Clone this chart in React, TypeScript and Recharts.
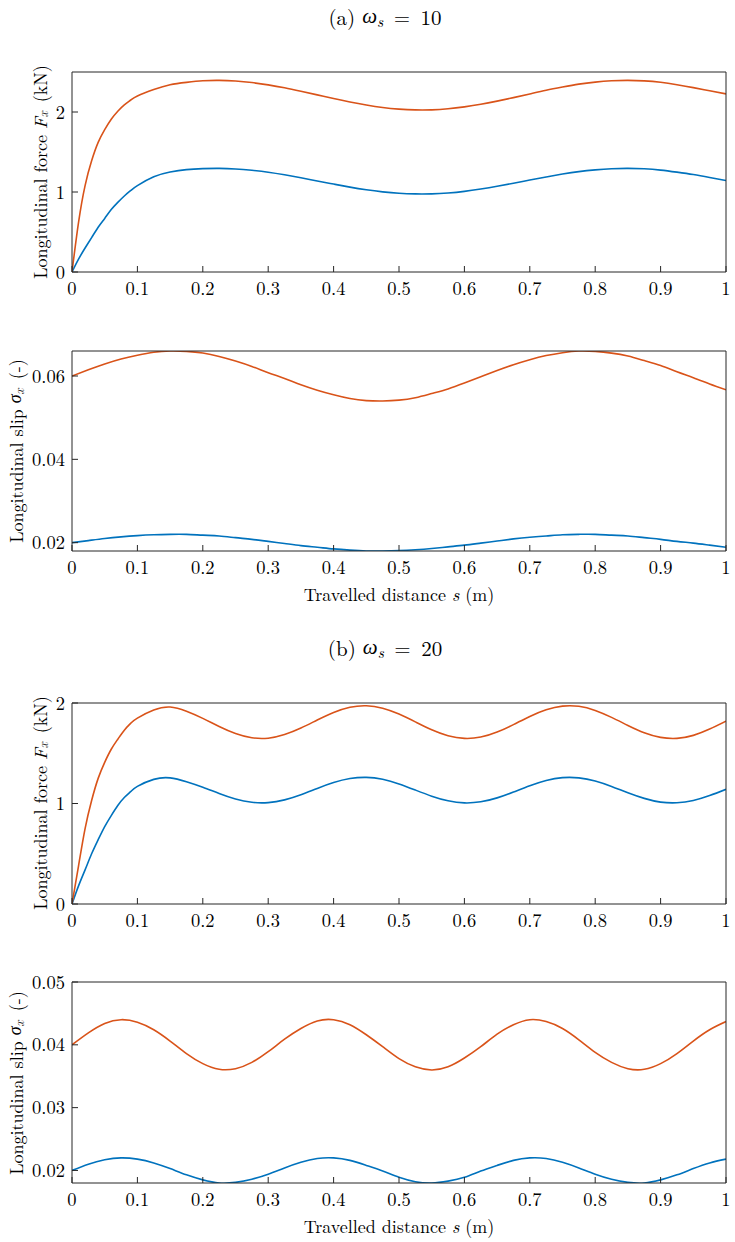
import React from "react";
import { LineChart, Line, XAxis, YAxis } from "recharts";

// travelled distance grids (m)
const sForce = [
  0, 0.01, 0.02, 0.03, 0.04, 0.05, 0.06, 0.07, 0.08, 0.09, 0.1,
  0.125, 0.15, 0.175, 0.2, 0.225, 0.25, 0.275, 0.3, 0.325, 0.35, 0.375, 0.4,
  0.425, 0.45, 0.475, 0.5, 0.525, 0.55, 0.575, 0.6, 0.625, 0.65, 0.675, 0.7,
  0.725, 0.75, 0.775, 0.8, 0.825, 0.85, 0.875, 0.9, 0.925, 0.95, 0.975, 1,
];
const sSlip = [
  0, 0.025, 0.05, 0.075, 0.1, 0.125, 0.15, 0.175, 0.2, 0.225, 0.25, 0.275,
  0.3, 0.325, 0.35, 0.375, 0.4, 0.425, 0.45, 0.475, 0.5, 0.525, 0.55, 0.575,
  0.6, 0.625, 0.65, 0.675, 0.7, 0.725, 0.75, 0.775, 0.8, 0.825, 0.85, 0.875,
  0.9, 0.925, 0.95, 0.975, 1,
];

// (a) omega_s = 10 : longitudinal force Fx (kN)
const forceBlueA = [
  0, 0.16, 0.3, 0.43, 0.56, 0.67, 0.78, 0.87, 0.95, 1.02, 1.08,
  1.19, 1.25, 1.28, 1.292, 1.295, 1.288, 1.271, 1.247, 1.215, 1.178, 1.138,
  1.099, 1.061, 1.028, 1.002, 0.984, 0.976, 0.977, 0.988, 1.008, 1.037, 1.071,
  1.109, 1.149, 1.188, 1.224, 1.255, 1.277, 1.291, 1.295, 1.29, 1.274, 1.248,
  1.218, 1.182, 1.144,
];
const forceOrangeA = [
  0, 0.62, 1.08, 1.39, 1.62, 1.78, 1.91, 2.01, 2.09, 2.15, 2.2,
  2.28, 2.34, 2.37, 2.39, 2.395, 2.387, 2.368, 2.339, 2.302, 2.259, 2.214,
  2.168, 2.125, 2.087, 2.056, 2.036, 2.026, 2.027, 2.04, 2.064, 2.096, 2.136,
  2.18, 2.226, 2.272, 2.312, 2.348, 2.374, 2.39, 2.395, 2.389, 2.371, 2.341,
  2.305, 2.265, 2.226,
];

// (a) omega_s = 10 : longitudinal slip sigma_x (-)
const slipBlueA = [
  0.02, 0.0205, 0.021, 0.0214, 0.0217, 0.0219, 0.022, 0.022, 0.0218, 0.0216,
  0.0212, 0.0208, 0.0203, 0.0198, 0.0193, 0.0189, 0.0185, 0.0182, 0.018,
  0.018, 0.0181, 0.0183, 0.0186, 0.019, 0.0194, 0.0199, 0.0204, 0.0209,
  0.0213, 0.0216, 0.0219, 0.022, 0.022, 0.0218, 0.0216, 0.0212, 0.0208,
  0.0203, 0.0199, 0.0194, 0.0189,
];
const slipOrangeA = [
  0.06, 0.0615, 0.0629, 0.0641, 0.065, 0.0657, 0.066, 0.0659, 0.0655, 0.0647,
  0.0636, 0.0623, 0.0608, 0.0594, 0.0579, 0.0566, 0.0555, 0.0546, 0.0541,
  0.054, 0.0542, 0.0548, 0.0558, 0.0569, 0.0583, 0.0598, 0.0613, 0.0627,
  0.0639, 0.0649, 0.0656, 0.066, 0.0659, 0.0655, 0.0648, 0.0637, 0.0625,
  0.061, 0.0596, 0.0581, 0.0567,
];

// (b) omega_s = 20 : longitudinal force Fx (kN)
const forceBlueB = [
  0, 0.18, 0.34, 0.5, 0.64, 0.77, 0.88, 0.98, 1.06, 1.12, 1.17,
  1.24, 1.255, 1.217, 1.162, 1.099, 1.044, 1.012, 1.009, 1.036, 1.087, 1.15,
  1.208, 1.248, 1.26, 1.241, 1.195, 1.134, 1.073, 1.027, 1.006, 1.017, 1.056,
  1.114, 1.176, 1.228, 1.257, 1.255, 1.224, 1.17, 1.107, 1.051, 1.014, 1.007,
  1.03, 1.079, 1.141,
];
const forceOrangeB = [
  0, 0.38, 0.75, 1.03, 1.25, 1.41, 1.54, 1.64, 1.73, 1.8, 1.85,
  1.93, 1.96, 1.918, 1.847, 1.766, 1.696, 1.654, 1.65, 1.686, 1.751, 1.831,
  1.906, 1.958, 1.973, 1.948, 1.89, 1.812, 1.733, 1.674, 1.648, 1.661, 1.711,
  1.785, 1.866, 1.932, 1.969, 1.967, 1.926, 1.857, 1.777, 1.704, 1.658, 1.648,
  1.678, 1.741, 1.82,
];

// (b) omega_s = 20 : longitudinal slip sigma_x (-)
const slipBlueB = [
  0.02, 0.021, 0.0217, 0.022, 0.0218, 0.0212, 0.0203, 0.0193, 0.0185, 0.018,
  0.0181, 0.0186, 0.0194, 0.0204, 0.0213, 0.0219, 0.022, 0.0216, 0.0208,
  0.0199, 0.0189, 0.0182, 0.018, 0.0183, 0.0189, 0.0199, 0.0208, 0.0216,
  0.022, 0.0219, 0.0213, 0.0204, 0.0194, 0.0186, 0.0181, 0.018, 0.0185,
  0.0193, 0.0203, 0.0212, 0.0218,
];
const slipOrangeB = [
  0.04, 0.0419, 0.0434, 0.044, 0.0436, 0.0424, 0.0406, 0.0386, 0.037, 0.0361,
  0.0362, 0.0372, 0.0389, 0.0409, 0.0426, 0.0438, 0.044, 0.0432, 0.0416,
  0.0397, 0.0378, 0.0365, 0.036, 0.0365, 0.0379, 0.0397, 0.0417, 0.0432,
  0.044, 0.0437, 0.0426, 0.0408, 0.0388, 0.0372, 0.0362, 0.0361, 0.037,
  0.0386, 0.0406, 0.0424, 0.0437,
];

const xTicks = [0, 0.1, 0.2, 0.3, 0.4, 0.5, 0.6, 0.7, 0.8, 0.9, 1];
const forceTicksA = [0, 1, 2];
const slipTicksA = [0.02, 0.04, 0.06];
const forceTicksB = [0, 1, 2];
const slipTicksB = [0.02, 0.03, 0.04, 0.05];

const toRows = (s: number[], blue: number[], orange: number[]) =>
  s.map((v, i) => ({ s: v, blue: blue[i], orange: orange[i] }));

const FONT = '"Latin Modern Roman", "Liberation Serif", serif';
const GREEK = '"Liberation Serif", serif';
const AXIS = "#262626";
const BLUE = "#0072BD";
const ORANGE = "#D95319";

const PLOT_LEFT = 72;
const PLOT_RIGHT = 726;
const W = 735;
const PAD_TOP = 20;

const txt = (size: number): React.CSSProperties => ({ fontFamily: FONT, fontSize: size, fill: "#000" });
const greek: React.CSSProperties = { fontFamily: GREEK, fontStyle: "italic" };

interface PanelProps {
  plotTop: number;
  plotBottom: number;
  data: any[];
  yDomain: [number, number];
  yTicks: number[];
}

const Panel: React.FC<PanelProps> = ({ plotTop, plotBottom, data, yDomain, yTicks }) => {
  const height = plotBottom - plotTop + PAD_TOP + 40;
  const tickStyle = { fill: "#000", fontSize: 18.5, fontFamily: FONT, style: txt(18.5) };
  return (
    <div style={{ position: "absolute", left: 0, top: plotTop - PAD_TOP, width: W, height }}>
      <LineChart
        width={W}
        height={height}
        data={data}
        margin={{ top: PAD_TOP - 1, right: W - PLOT_RIGHT - 1, bottom: 0, left: PLOT_LEFT - 1 }}
      >
        <XAxis
          dataKey="s"
          type="number"
          domain={[0, 1]}
          ticks={xTicks}
          allowDataOverflow
          height={40}
          tickSize={-6}
          tickMargin={16}
          tick={tickStyle}
          stroke={AXIS}
          interval={0}
        />
        <XAxis
          xAxisId="top"
          orientation="top"
          dataKey="s"
          type="number"
          domain={[0, 1]}
          ticks={xTicks}
          allowDataOverflow
          height={1}
          tickSize={-6}
          tick={false}
          stroke={AXIS}
          interval={0}
        />
        <YAxis
          type="number"
          domain={yDomain}
          ticks={yTicks}
          allowDataOverflow
          width={1}
          tickSize={-6}
          tickMargin={13}
          tick={tickStyle}
          stroke={AXIS}
          interval={0}
        />
        <YAxis
          yAxisId="right"
          orientation="right"
          type="number"
          domain={yDomain}
          ticks={yTicks}
          allowDataOverflow
          width={1}
          tickSize={-6}
          tick={false}
          stroke={AXIS}
          interval={0}
        />
        <Line
          type="natural"
          dataKey="blue"
          stroke={BLUE}
          strokeWidth={1.6}
          dot={false}
          isAnimationActive={false}
        />
        <Line
          type="natural"
          dataKey="orange"
          stroke={ORANGE}
          strokeWidth={1.6}
          dot={false}
          isAnimationActive={false}
        />
      </LineChart>
    </div>
  );
};

const Title: React.FC<{ y: number; tag: string; omega: string }> = ({ y, tag, omega }) => (
  <text x={385} y={y} textAnchor="middle" dominantBaseline="central" style={txt(21)}>
    ({tag}) <tspan style={greek}>ω</tspan>
    <tspan fontStyle="italic" fontSize={15} dy={4}>s</tspan>
    <tspan dy={-4}>{"\u2002=\u2002" + omega}</tspan>
  </text>
);

const ForceLabel: React.FC<{ x: number; y: number }> = ({ x, y }) => (
  <text transform={`translate(${x},${y}) rotate(-90)`} textAnchor="middle" dominantBaseline="central" style={txt(18)}>
    Longitudinal force <tspan fontStyle="italic">F</tspan>
    <tspan fontStyle="italic" fontSize={13} dy={3}>x</tspan>
    <tspan dy={-3}>{"\u2002(kN)"}</tspan>
  </text>
);

const SlipLabel: React.FC<{ x: number; y: number }> = ({ x, y }) => (
  <text transform={`translate(${x},${y}) rotate(-90)`} textAnchor="middle" dominantBaseline="central" style={txt(18)}>
    Longitudinal slip <tspan style={greek}>σ</tspan>
    <tspan fontStyle="italic" fontSize={13} dy={3}>x</tspan>
    <tspan dy={-3}>{"\u2002(-)"}</tspan>
  </text>
);

const DistLabel: React.FC<{ y: number }> = ({ y }) => (
  <text x={399} y={y} textAnchor="middle" dominantBaseline="central" style={txt(18)}>
    Travelled distance <tspan fontStyle="italic">s</tspan> (m)
  </text>
);

export default function App() {
  return (
    <div
      style={{
        position: "absolute",
        left: 0,
        top: 0,
        width: W,
        height: 1242,
        background: "#fff",
        fontFamily: FONT,
      }}
    >
      <Panel plotTop={72} plotBottom={272} data={toRows(sForce, forceBlueA, forceOrangeA)} yDomain={[0, 2.5]} yTicks={forceTicksA} />
      <Panel plotTop={351} plotBottom={551} data={toRows(sSlip, slipBlueA, slipOrangeA)} yDomain={[0.018, 0.066]} yTicks={slipTicksA} />
      <Panel plotTop={703} plotBottom={904} data={toRows(sForce, forceBlueB, forceOrangeB)} yDomain={[0, 2]} yTicks={forceTicksB} />
      <Panel plotTop={982} plotBottom={1183} data={toRows(sSlip, slipBlueB, slipOrangeB)} yDomain={[0.018, 0.05]} yTicks={slipTicksB} />
      <svg
        width={W}
        height={1242}
        style={{ position: "absolute", left: 0, top: 0, pointerEvents: "none" }}
      >
        <Title y={16} tag="a" omega="10" />
        <ForceLabel x={39} y={172} />
        <SlipLabel x={15} y={451} />
        <DistLabel y={593} />
        <Title y={647} tag="b" omega="20" />
        <ForceLabel x={39} y={803} />
        <SlipLabel x={15} y={1083} />
        <DistLabel y={1225} />
      </svg>
    </div>
  );
}
